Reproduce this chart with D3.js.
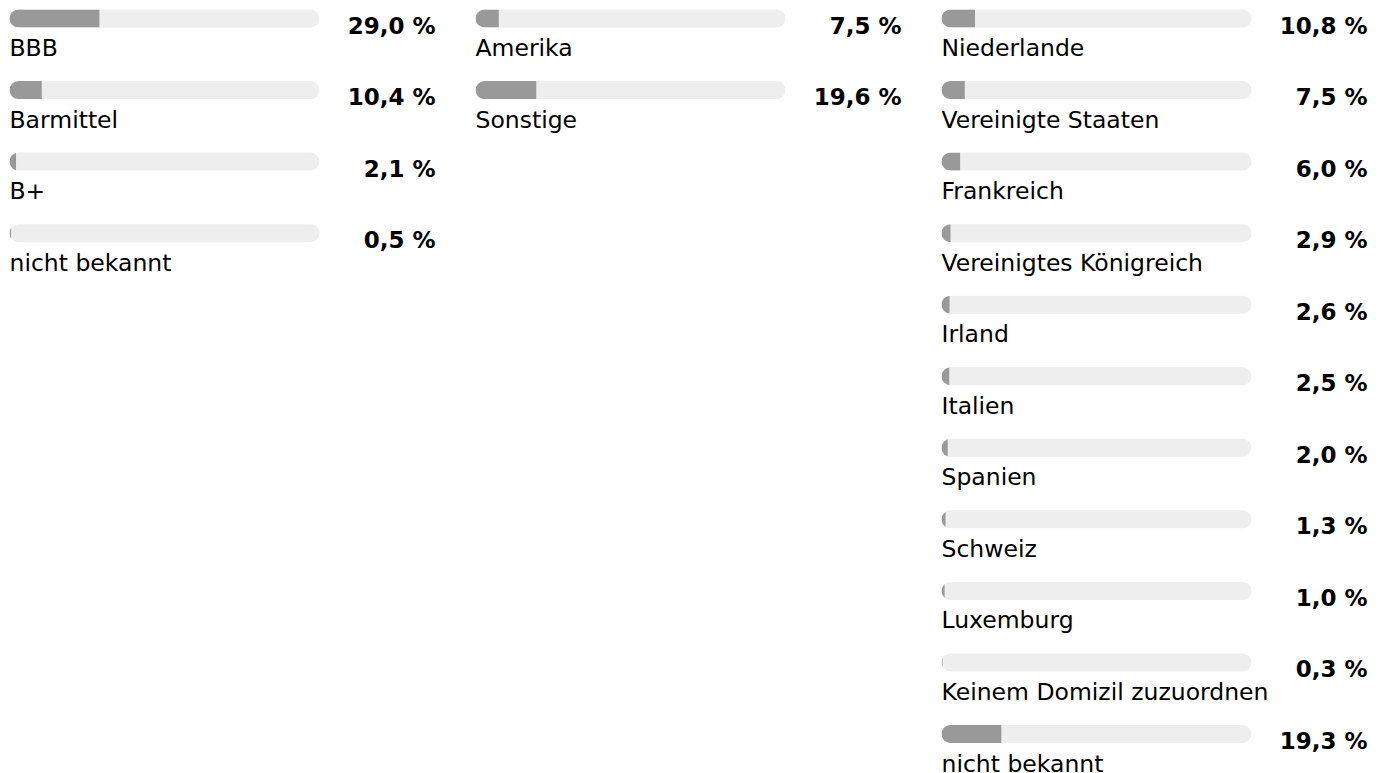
<!DOCTYPE html>
<html lang="de">
<head>
<meta charset="utf-8">
<title>Portfoliostruktur</title>
<script src="https://cdn.jsdelivr.net/npm/d3@7"></script>
<style>
  html, body { margin: 0; padding: 0; background: #ffffff; }
  svg { display: block; }
  .label { font-family: "DejaVu Sans", sans-serif; font-size: 23.5px; fill: #000; }
  .value { font-family: "DejaVu Sans", sans-serif; font-size: 23px; font-weight: bold; fill: #000; }
</style>
</head>
<body>
<svg id="chart" width="1385" height="773"></svg>
<script>
// Bonitätsstruktur
const ratingLabels = ["BBB", "Barmittel", "B+", "nicht bekannt"];
const ratingValues = [29.0, 10.4, 2.1, 0.5];

// Regionen
const regionLabels = ["Amerika", "Sonstige"];
const regionValues = [7.5, 19.6];

// Länder (Domizil)
const countryLabels = [
  "Niederlande", "Vereinigte Staaten", "Frankreich", "Vereinigtes Königreich",
  "Irland", "Italien", "Spanien", "Schweiz", "Luxemburg",
  "Keinem Domizil zuzuordnen", "nicht bekannt"
];
const countryValues = [10.8, 7.5, 6.0, 2.9, 2.6, 2.5, 2.0, 1.3, 1.0, 0.3, 19.3];

const groups = [
  { labels: ratingLabels, values: ratingValues },
  { labels: regionLabels, values: regionValues },
  { labels: countryLabels, values: countryValues }
];

// layout
const colX = [9.5, 475.5, 941.5];   // left edge of each column
const trackW = 310;
const trackH = 18;
const rowPitch = 71.55;
const firstRowY = 9.5;
const valueRight = 426;              // right edge of the value text, relative to column
const labelDy = 46.5;
const valueDy = 24;

const fmt = v => d3.format(".1f")(v).replace(".", ",") + " %";

const svg = d3.select("#chart");
const defs = svg.append("defs");

const x = d3.scaleLinear().domain([0, 100]).range([0, trackW]);
const y = d3.scaleLinear().domain([0, 1]).range([firstRowY, firstRowY + rowPitch]);

groups.forEach((g, gi) => {
  const col = svg.append("g").attr("transform", `translate(${colX[gi]},0)`);
  const rows = col.selectAll("g.row")
    .data(g.values.map((v, i) => ({ v, label: g.labels[i], i })))
    .join("g")
    .attr("class", "row")
    .attr("transform", d => `translate(0,${y(d.i)})`);

  // rounded track, also used as the clip for the filled part
  rows.each(function (d) {
    const id = `clip-${gi}-${d.i}`;
    defs.append("clipPath").attr("id", id)
      .append("rect")
      .attr("x", 0).attr("y", 0)
      .attr("width", x(100)).attr("height", trackH)
      .attr("rx", trackH / 2).attr("ry", trackH / 2);
    const r = d3.select(this);
    r.append("rect")
      .attr("x", 0).attr("y", 0)
      .attr("width", x(100)).attr("height", trackH)
      .attr("rx", trackH / 2).attr("ry", trackH / 2)
      .attr("fill", "#eeeeee");
    r.append("rect")
      .attr("clip-path", `url(#${id})`)
      .attr("x", 0).attr("y", 0)
      .attr("width", x(d.v)).attr("height", trackH)
      .attr("fill", "#999999");
  });

  rows.append("text")
    .attr("class", "label")
    .attr("x", 0)
    .attr("y", labelDy)
    .text(d => d.label);

  rows.append("text")
    .attr("class", "value")
    .attr("x", valueRight)
    .attr("y", valueDy)
    .attr("text-anchor", "end")
    .text(d => fmt(d.v));
});
</script>
</body>
</html>
